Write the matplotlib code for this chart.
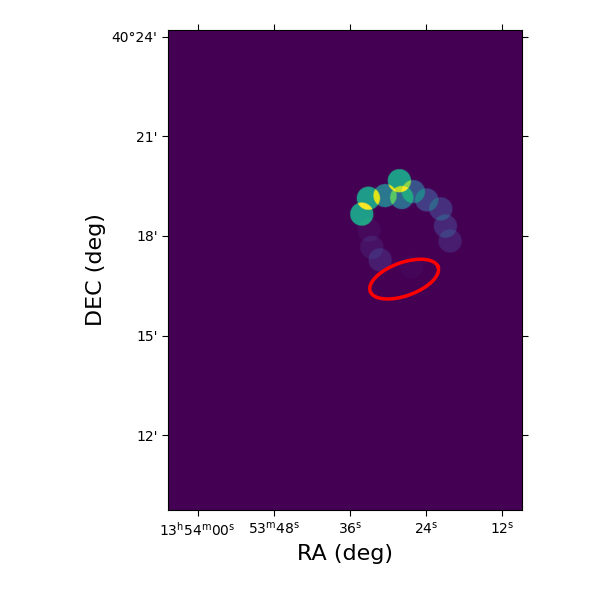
import numpy as np
import matplotlib as mpl

mpl.use("Agg")
import matplotlib.pyplot as plt

# Beam centres: RA in seconds past 13h53m, DEC in arcmin past 40 deg
beam_ra = [34.1, 33.06, 30.43, 27.79, 28.17, 25.96, 23.85, 21.64, 20.91, 20.17, 32.95, 32.52, 31.21, 26.21]
beam_dec = [18.66, 19.14, 19.22, 19.16, 19.67, 19.34, 19.09, 18.82, 18.30, 17.85, 18.18, 17.66, 17.28, 17.07]
beam_flux = [0.56, 0.55, 0.40, 0.34, 0.56, 0.26, 0.18, 0.14, 0.11, 0.08, 0.025, 0.05, 0.08, 0.015]
beam_radius = 0.35  # arcmin

# Source ellipse (sky arcmin)
ell_ra, ell_dec = 27.43, 16.70
ell_a, ell_b, ell_angle = 1.085, 0.50, 20.0

ra_ticks = [60, 48, 36, 24, 12]
ra_labels = [
    r"13$^{\mathrm{h}}$54$^{\mathrm{m}}$00$^{\mathrm{s}}$",
    r"53$^{\mathrm{m}}$48$^{\mathrm{s}}$",
    r"36$^{\mathrm{s}}$",
    r"24$^{\mathrm{s}}$",
    r"12$^{\mathrm{s}}$",
]
dec_ticks = [24, 21, 18, 15, 12]
dec_labels = ["40°24'", "21'", "18'", "15'", "12'"]

ra_lim = (64.65, 8.85)
dec_lim = (9.74, 24.21)

# seconds of RA per arcmin on the sky at this declination
SEC_PER_ARCMIN = 60 / (15 * np.cos(np.radians(40.3)))

# Sum the beams into an image
ra_grid = np.linspace(ra_lim[0], ra_lim[1], 1200)
dec_grid = np.linspace(dec_lim[0], dec_lim[1], 1600)
xx, yy = np.meshgrid(ra_grid, dec_grid)
image = np.zeros_like(xx)
for ra, dec, flux in zip(beam_ra, beam_dec, beam_flux):
    dist = np.hypot((xx - ra) / SEC_PER_ARCMIN, yy - dec)
    image[dist <= beam_radius] += flux

fig = plt.figure(figsize=(6, 6), dpi=100)
ax = fig.add_axes([168 / 600, 90 / 600, 354 / 600, 480 / 600])
ax.imshow(
    image,
    origin="lower",
    extent=(ra_lim[0], ra_lim[1], dec_lim[0], dec_lim[1]),
    aspect="auto",
    cmap="viridis",
    vmin=0,
    vmax=1,
    interpolation="bilinear",
)

# Ellipse is round on the sky, so draw it in arcmin then convert to RA seconds
t = np.linspace(0, 2 * np.pi, 200)
theta = np.radians(ell_angle)
dx = ell_a * np.cos(t) * np.cos(theta) - ell_b * np.sin(t) * np.sin(theta)
dy = ell_a * np.cos(t) * np.sin(theta) + ell_b * np.sin(t) * np.cos(theta)
ax.plot(ell_ra - dx * SEC_PER_ARCMIN, ell_dec + dy, color="red", lw=2.5)

ax.set_xlim(ra_lim)
ax.set_ylim(dec_lim)
ax.set_xticks(ra_ticks)
ax.set_xticklabels(ra_labels)
ax.set_yticks(dec_ticks)
ax.set_yticklabels(dec_labels)
ax.tick_params(axis="both", direction="out", length=4, labelsize=10, top=True, right=True)
ax.set_xlabel("RA (deg)", fontsize=16, labelpad=4)
ax.set_ylabel("DEC (deg)", fontsize=16, labelpad=4)

fig.savefig("out.png", dpi=100)
